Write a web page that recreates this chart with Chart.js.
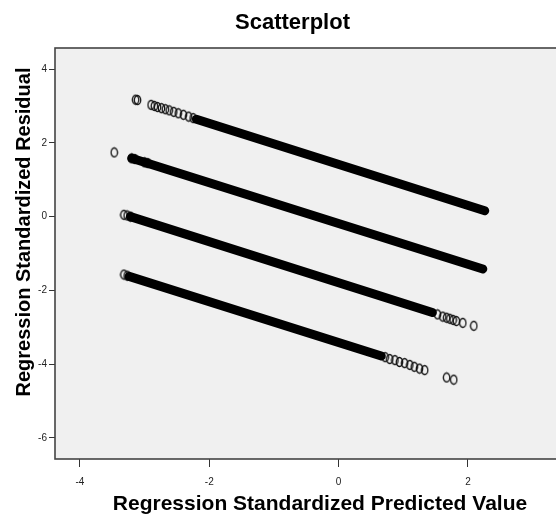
<!DOCTYPE html>
<html>
<head>
<meta charset="utf-8">
<script src="https://cdn.jsdelivr.net/npm/chart.js@4/dist/chart.umd.min.js"></script>
<style>
  body { margin: 0; background: #fff; }
  #crop { width: 556px; height: 518px; overflow: hidden; }
  #wrap { width: 632px; height: 518px; }
</style>
</head>
<body>
<div id="crop"><div id="wrap"><canvas id="scatter"></canvas></div></div>
<script>
// axis ticks
const xTicks = [-4, -2, 0, 2];
const yTicks = [4, 2, 0, -2, -4, -6];

// solid runs where the circles overlap into a band: [start, end]
const band1 = [[-2.20, 2.64], [2.26, 0.16]];
const band2 = [[-3.20, 1.58], [2.23, -1.42]];
const band3 = [[-3.22, 0.00], [1.45, -2.60]];
const band4 = [[-3.24, -1.62], [0.66, -3.78]];

// separate circles at the ends of each band
const line1Pts = [[-3.14, 3.17], [-3.11, 3.16], [-2.90, 3.03], [-2.85, 3.00], [-2.80, 2.97],
  [-2.74, 2.94], [-2.68, 2.91], [-2.62, 2.88], [-2.55, 2.84], [-2.48, 2.80], [-2.40, 2.76],
  [-2.32, 2.71], [-2.25, 2.67]];
const line2Pts = [[-3.47, 1.74], [-3.20, 1.58], [-3.15, 1.56], [-3.00, 1.47], [-2.95, 1.45]];
const line3Pts = [[-3.32, 0.05], [-3.27, 0.03], [-3.22, 0.00], [1.53, -2.65], [1.61, -2.71],
  [1.67, -2.74], [1.72, -2.77], [1.77, -2.80], [1.82, -2.83], [1.92, -2.88], [2.09, -2.96]];
const line4Pts = [[-3.32, -1.57], [-3.27, -1.60], [0.72, -3.81], [0.79, -3.86], [0.87, -3.89],
  [0.94, -3.94], [1.02, -3.97], [1.10, -4.02], [1.17, -4.07], [1.25, -4.12], [1.33, -4.16],
  [1.67, -4.36], [1.78, -4.42]];

const toXY = arr => arr.map(p => ({ x: p[0], y: p[1] }));

// SPSS draws slightly tall open circles
const marker = document.createElement('canvas');
marker.width = 9;
marker.height = 12;
const mctx = marker.getContext('2d');
mctx.strokeStyle = '#111';
mctx.lineWidth = 1.3;
mctx.beginPath();
mctx.ellipse(4.5, 6, 3.2, 4.5, 0, 0, Math.PI * 2);
mctx.stroke();

const bandSet = data => ({
  data: toXY(data),
  showLine: true,
  borderColor: '#000',
  borderWidth: 9,
  borderCapStyle: 'round',
  pointRadius: 0,
  pointHoverRadius: 0
});

const pointSet = data => ({
  data: toXY(data),
  pointStyle: marker,
  pointRadius: 5,
  showLine: false
});

const frame = {
  id: 'frame',
  beforeDraw(chart) {
    const { ctx, chartArea: a } = chart;
    ctx.save();
    ctx.fillStyle = '#f0f0f0';
    ctx.fillRect(a.left, a.top, a.right - a.left, a.bottom - a.top);
    ctx.restore();
  },
  afterDraw(chart) {
    const { ctx, chartArea: a } = chart;
    ctx.save();
    ctx.strokeStyle = '#444';
    ctx.lineWidth = 1.6;
    ctx.strokeRect(a.left, a.top, a.right - a.left, a.bottom - a.top);

    // y axis title sits a little above the middle of the axis
    ctx.fillStyle = '#000';
    ctx.font = 'bold 20px "Liberation Sans"';
    ctx.textAlign = 'center';
    ctx.textBaseline = 'middle';
    ctx.translate(24, 232);
    ctx.rotate(-Math.PI / 2);
    ctx.fillText('Regression Standardized Residual', 0, 0);
    ctx.restore();
  }
};

new Chart(document.getElementById('scatter'), {
  type: 'scatter',
  data: {
    datasets: [
      bandSet(band1), bandSet(band2), bandSet(band3), bandSet(band4),
      pointSet(line1Pts), pointSet(line2Pts), pointSet(line3Pts), pointSet(line4Pts)
    ]
  },
  options: {
    responsive: true,
    maintainAspectRatio: false,
    animation: false,
    events: [],
    layout: { padding: { left: 0, right: 47, top: 0, bottom: 0 } },
    plugins: {
      legend: { display: false },
      tooltip: { enabled: false },
      title: {
        display: true,
        text: 'Scatterplot',
        color: '#000',
        font: { family: 'Liberation Sans', size: 22, weight: 'bold' },
        padding: { top: 9.8, bottom: 11.8 }
      }
    },
    scales: {
      x: {
        type: 'linear',
        min: -4.386,
        max: 3.81,
        afterBuildTicks: s => { s.ticks = xTicks.map(v => ({ value: v })); },
        afterFit: s => { s.height = 59; },
        border: { display: false },
        grid: { drawOnChartArea: false, drawTicks: true, tickLength: 8, color: '#333' },
        ticks: {
          color: '#222',
          padding: 9,
          maxRotation: 0,
          font: { family: 'Liberation Sans', size: 10 }
        },
        title: {
          display: true,
          text: 'Regression Standardized Predicted Value',
          color: '#000',
          font: { family: 'Liberation Sans', size: 21, weight: 'bold' },
          padding: { top: 0, bottom: 1.4 }
        }
      },
      y: {
        type: 'linear',
        min: -6.57,
        max: 4.57,
        afterBuildTicks: s => { s.ticks = yTicks.map(v => ({ value: v })); },
        afterFit: s => { s.width = 55; },
        border: { display: false },
        grid: { drawOnChartArea: false, drawTicks: true, tickLength: 6, color: '#333' },
        ticks: {
          color: '#222',
          padding: 2,
          font: { family: 'Liberation Sans', size: 10 }
        }
      }
    }
  },
  plugins: [frame]
});
</script>
</body>
</html>
